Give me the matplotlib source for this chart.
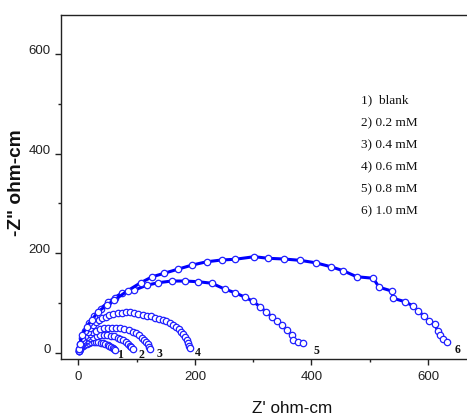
import matplotlib
matplotlib.use("Agg")
import matplotlib.pyplot as plt
from matplotlib.ticker import MultipleLocator
from matplotlib import font_manager

# Nyquist data: Z' (real) and -Z'' (imaginary), ohm-cm
z1_re = [1, 2, 4, 7, 10, 14, 18, 22, 26, 30, 34, 38, 42, 46, 50, 53, 56, 59, 61, 63]
z1_im = [4, 8, 11.5, 14.5, 17, 19, 20.5, 21.5, 22, 22.2, 21.8, 21, 19.8, 18, 16, 14, 12, 10, 8.5, 7]

z2_re = [1, 2, 4, 7, 11, 15, 20, 25, 31, 37, 43, 49, 55, 61, 67, 72, 77, 81, 85, 88, 91, 93]
z2_im = [5, 10, 15, 19.5, 23.5, 27, 30, 32.5, 34.5, 35.8, 36.3, 36, 35, 33.5, 31, 28.5, 25.5, 22, 18.5, 15, 11.5, 8]

z3_re = [1, 2, 4, 7, 10, 14, 19, 24, 30, 37, 44, 51, 58, 65, 72, 79, 86, 93, 99, 104,
         109, 113, 116, 119, 121, 122]
z3_im = [5, 11, 17, 23, 28, 33, 37.5, 41.5, 45, 47.5, 49.5, 50.5, 51, 50.8, 50, 48.5, 46, 43,
         39.5, 35.5, 31, 26.5, 22, 17.5, 13, 9]

z4_re = [1, 2.5, 5, 8, 12, 16, 20, 25, 30, 35, 41, 47, 53, 60, 67, 74, 81, 88, 95, 103,
         110, 117, 124, 131, 138, 145, 151, 157, 163, 168, 172, 176, 180, 183, 186, 188, 190, 191]
z4_im = [5, 12, 19, 27, 35, 43, 51, 57, 62.5, 66.5, 70, 73, 75.5, 78, 80, 81, 81.5, 81.5, 80.5, 79,
         77, 75, 73.5, 71, 68.5, 66, 63.5, 59.5, 56, 52, 47.5, 43, 38, 33, 27, 21, 15, 10]

z5_re = [1, 3, 6, 11, 18, 27, 38, 51, 62, 74, 95.8, 117, 137, 160, 182.8, 205.7, 228.7, 251.5,
         268.7, 285.8, 299, 311.6, 321.4, 331.7, 340.3, 348.8, 357.4, 366, 368.8, 377.4, 386]
z5_im = [8, 18, 30, 45, 60, 75, 89, 102, 111, 120, 126, 136, 141, 144.4, 144.4, 143, 140, 128,
         121, 112, 104, 93, 83, 73, 64, 56, 46, 36, 26, 23, 21]

z6_re = [1, 2.6, 6.5, 14, 22.7, 34, 48.4, 61.5, 84.5, 106.8, 126.7, 147.3, 170.3, 195.4, 220,
         245.8, 268.7, 301.8, 325.8, 352.3, 379.7, 407.2, 433.5, 454.6, 477.6, 506, 516, 538.7,
         539.4, 560.5, 574.8, 583.3, 593.6, 601.7, 612, 616.7, 620.6, 626.3, 632]
z6_im = [9, 19, 36, 53, 66, 83, 96, 106, 125, 141, 153, 160, 168, 176.5, 183, 186.6, 188, 193.2,
         190, 188.6, 186, 181, 173, 165, 153, 150, 132, 124, 110, 103, 94, 84, 74, 64, 58, 44,
         36, 29, 23]

curve_ids = ["1", "2", "3", "4", "5", "6"]
legend_lines = ["1)  blank", "2) 0.2 mM", "3) 0.4 mM", "4) 0.6 mM", "5) 0.8 mM", "6) 1.0 mM"]

x_major = [0, 200, 400, 600]
y_major = [0, 200, 400, 600]

series = [(z1_re, z1_im), (z2_re, z2_im), (z3_re, z3_im),
          (z4_re, z4_im), (z5_re, z5_im), (z6_re, z6_im)]
# pixel offsets of the curve number relative to the last point of each curve
id_offsets = [(5, -5), (9, -6), (10, -5), (8, -5), (13, -8), (11, -8)]

installed = {f.name for f in font_manager.fontManager.ttflist}
narrow = "Liberation Sans Narrow" if "Liberation Sans Narrow" in installed else "Liberation Sans"

W, H = 467, 419
fig = plt.figure(figsize=(W / 100, H / 100), dpi=100)
ax = fig.add_axes([61 / W, 60 / H, 406 / W, 344 / H])

blue = "#0000ff"
for (re, im), cid, off in zip(series, curve_ids, id_offsets):
    ax.plot(re, im, "-", color=blue, lw=2.2, marker="o", ms=4.6,
            mfc="white", mec="#2020ff", mew=0.9, zorder=3)
    ax.annotate(cid, xy=(re[-1], im[-1]), xytext=off, textcoords="offset pixels",
                ha="center", va="center", fontsize=8.5, fontweight="bold",
                family="Liberation Serif", color="#111111")

ax.set_xlim(-30, 667)
ax.set_ylim(-12, 678)
ax.set_xticks(x_major)
ax.set_yticks(y_major)
ax.xaxis.set_minor_locator(MultipleLocator(100))
ax.yaxis.set_minor_locator(MultipleLocator(100))

ax.spines["right"].set_visible(False)
for s in ("left", "bottom", "top"):
    ax.spines[s].set_linewidth(1.0)
    ax.spines[s].set_color("#222222")

ax.tick_params(which="major", direction="out", length=4.5, width=1.0, color="#222222",
               labelsize=9.5, labelcolor="#222222", pad=3)
ax.tick_params(which="minor", direction="out", length=2.5, width=1.0, color="#222222")
ax.tick_params(axis="x", which="major", pad=4)
for lab in ax.get_xticklabels() + ax.get_yticklabels():
    lab.set_family(narrow)
for lab in ax.get_yticklabels():
    lab.set_va("baseline")

# concentration key
for i, line in enumerate(legend_lines):
    yc = 100.7 + 22.2 * i
    fig.text(361 / W, 1 - yc / H, line, ha="left", va="center", fontsize=9.5,
             family="Liberation Serif", color="#111111")

fig.text(292 / W, 1 - 408 / H, "Z' ohm-cm", ha="center", va="center", fontsize=12.3,
         family="Liberation Sans", color="#111111")
fig.text(17 / W, 1 - 183 / H, '-Z" ohm-cm', ha="center", va="center", rotation=90,
         fontsize=13.8, fontweight="bold", family="Liberation Sans", color="#111111")

fig.savefig("out.png", dpi=100)
